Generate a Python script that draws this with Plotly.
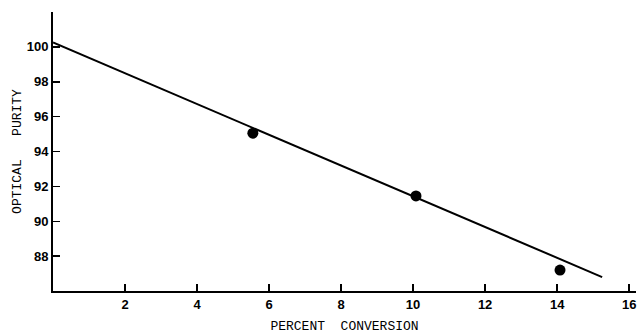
import plotly.graph_objects as go

# Data
conversion = [5.55, 10.08, 14.08]          # percent conversion
optical_purity = [95.05, 91.45, 87.2]      # optical purity
fit_x = [0.0, 15.25]                        # fitted line x extent
fit_y = [100.25, 86.8]                      # fitted line values

x_ticks = [2, 4, 6, 8, 10, 12, 14, 16]
y_ticks = [88, 90, 92, 94, 96, 98, 100]

fig = go.Figure()
fig.add_trace(go.Scatter(
    x=fit_x, y=fit_y, mode="lines",
    line=dict(color="black", width=2), showlegend=False, hoverinfo="skip"))
fig.add_trace(go.Scatter(
    x=conversion, y=optical_purity, mode="markers",
    marker=dict(color="black", size=11), showlegend=False))

tickfont = dict(family="Liberation Sans", size=13, color="black", weight="bold")
titlefont = dict(family="Liberation Mono", size=13, color="black")

fig.update_layout(
    width=638, height=336,
    margin=dict(l=53, r=2, t=12, b=45),
    paper_bgcolor="white", plot_bgcolor="white",
    xaxis=dict(
        range=[0, 16.19], tickvals=x_ticks, ticktext=[str(v) for v in x_ticks],
        ticks="inside", ticklen=7, tickwidth=1.5, tickcolor="black",
        showline=True, linecolor="black", linewidth=2,
        showgrid=False, zeroline=False, tickfont=tickfont, automargin=False,
        title=dict(text="PERCENT  CONVERSION", font=titlefont, standoff=10),
    ),
    yaxis=dict(
        range=[86.0, 102.0], tickvals=y_ticks, ticktext=[str(v) for v in y_ticks],
        ticks="inside", ticklen=7, tickwidth=1.5, tickcolor="black",
        showline=True, linecolor="black", linewidth=2,
        showgrid=False, zeroline=False, tickfont=tickfont, automargin=False,
        title=dict(text="OPTICAL   PURITY", font=titlefont, standoff=2),
    ),
)

# remove the default page margin so the figure fills the window without scrollbars
fig.write_html(
    "out.html",
    config={"displayModeBar": False, "staticPlot": True},
    post_script="document.body.style.margin='0';document.body.style.overflow='hidden';",
)
